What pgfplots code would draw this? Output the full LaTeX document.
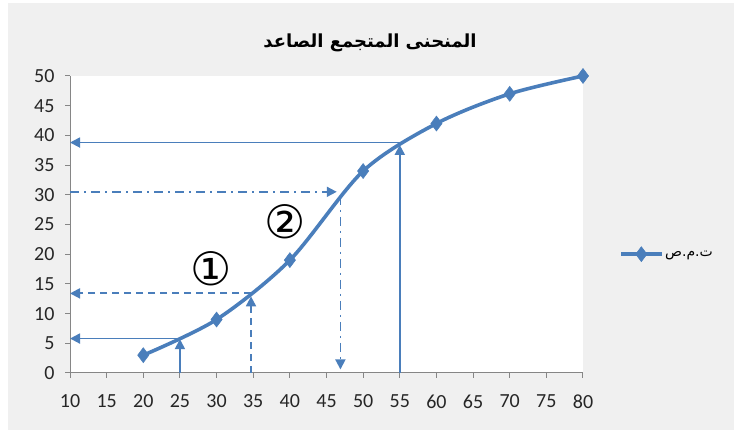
\documentclass[border=0pt]{standalone}
\usepackage{pgfplots}
\pgfplotsset{compat=1.18}
\usetikzlibrary{arrows.meta}
\usepackage{fontspec}
\setmainfont{Carlito}
\newfontfamily\arabicfont[Script=Arabic]{DejaVu Sans}
\newfontfamily\symfont{DejaVu Sans}
\TeXXeTstate=1

\definecolor{bgc}{HTML}{F0F0F0}
\definecolor{serblue}{HTML}{4A7EBB}
\definecolor{axgray}{HTML}{868686}

\begin{document}
\begin{tikzpicture}
  \fill[white] (0,0) rectangle (734pt,430pt);
  \fill[bgc] (8pt,0) rectangle (734pt,427pt);
  \node[font=\arabicfont\bfseries\fontsize{18}{22}\selectfont] at (370pt,387pt) {\beginR المنحنى المتجمع الصاعد\endR};
  \begin{axis}[
      scale only axis,
      width=513pt, height=297pt,
      at={(70pt,57pt)}, anchor=south west,
      xmin=10, xmax=80, ymin=0, ymax=50,
      xtick={10,15,...,80}, ytick={0,5,...,50},
      axis lines*=left,
      axis line style={axgray, line width=1pt},
      tick style={axgray, line width=1pt},
      tick align=outside,
      major tick length=5pt,
      axis background/.style={fill=white},
      tick label style={font=\fontsize{20}{24}\selectfont, text=black!85},
      /pgf/number format/assume math mode=true,
      xticklabel style={yshift=-13pt},
      yticklabel style={xshift=-7pt},
      clip=false,
      legend style={at={(1.065,0.40)}, anchor=west, draw=none, fill=none,
        font=\arabicfont\fontsize{14}{16}\selectfont},
      legend cell align=left,
      legend image code/.code={
        \draw[mark repeat=2, mark phase=2, #1] plot coordinates {(0pt,0pt) (20pt,0pt) (40pt,0pt)};
      },
    ]
    % solid reading at 25
    \addplot[serblue, line width=1.8pt, -{Triangle[length=10pt,width=10pt]}, forget plot]
      coordinates {(25,0) (25,5.7)};
    \addplot[serblue, line width=1.8pt, -{Triangle[length=10pt,width=10pt]}, forget plot]
      coordinates {(25,5.8) (10,5.8)};
    % dashed reading
    \addplot[serblue, line width=1.8pt, dash pattern=on 7pt off 5pt, -{Triangle[length=10pt,width=10pt]}, forget plot]
      coordinates {(34.7,0) (34.7,12.9)};
    \addplot[serblue, line width=1.8pt, dash pattern=on 7pt off 5pt, -{Triangle[length=10pt,width=10pt]}, forget plot]
      coordinates {(34.7,13.4) (10,13.4)};
    % dash-dot reading
    \addplot[serblue, line width=1.8pt, dash pattern=on 9pt off 5pt on 2pt off 5pt, -{Triangle[length=10pt,width=10pt]}, forget plot]
      coordinates {(10,30.5) (46.4,30.5)};
    \addplot[serblue, line width=1.8pt, dash pattern=on 9pt off 5pt on 2pt off 5pt, -{Triangle[length=10pt,width=10pt]}, forget plot]
      coordinates {(46.9,29.8) (46.9,0.6)};
    % solid reading at 55
    \addplot[serblue, line width=1.8pt, -{Triangle[length=10pt,width=10pt]}, forget plot]
      coordinates {(55,0) (55,38.4)};
    \addplot[serblue, line width=1.8pt, -{Triangle[length=10pt,width=10pt]}, forget plot]
      coordinates {(55,38.8) (10,38.8)};
    % ogive
    \addplot[serblue, line width=3.6pt, smooth, tension=0.5,
      mark=diamond*, mark size=7.5pt, mark options={solid, fill=serblue, line width=0.5pt}]
      coordinates {(20,3) (30,9) (40,19) (50,34) (60,42) (70,47) (80,50)};
    \addlegendentry{\beginR ت.م.ص\endR}
    \node[font=\symfont\fontsize{46}{50}\selectfont] at (axis cs:29.2,17.6) {①};
    \node[font=\symfont\fontsize{46}{50}\selectfont] at (axis cs:39.3,25.4) {②};
  \end{axis}
\end{tikzpicture}
\end{document}
